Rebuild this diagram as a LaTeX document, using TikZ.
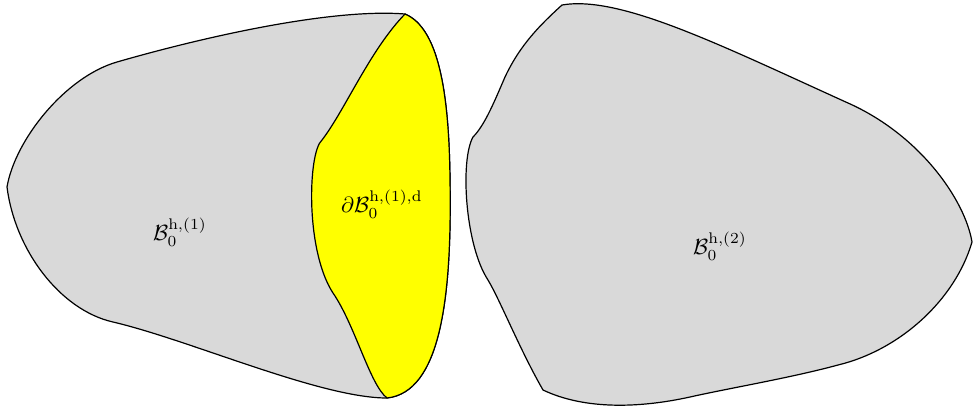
\documentclass[tikz,border=0pt]{standalone}
\usepackage{amsmath}
\definecolor{pureyellow}{RGB}{255,255,0}
\definecolor{bodygray}{RGB}{217,217,217}
\begin{document}
\begin{tikzpicture}[x=0.5pt,y=-0.5pt,
  body/.style={fill=bodygray,draw=black,line width=0.6pt,line join=round},
  face/.style={fill=pureyellow,draw=black,line width=0.6pt,line join=round},
  lbl/.style={inner sep=0pt,scale=1.1}]
\useasboundingbox (0,0) rectangle (973,408);
% left body
\path[body] (405,14) .. controls (330,8) and (200,38) .. (117,62)
  .. controls (65,77) and (15,140) .. (7,187)
  .. controls (15,250) and (60,310) .. (113,322)
  .. controls (190,340) and (320,398) .. (387,398)
  .. controls (440,392) and (452,300) .. (450,180)
  .. controls (449,90) and (438,28) .. (405,14) -- cycle;
% yellow face
\path[face] (405,14) .. controls (370,50) and (345,110) .. (322,140)
  .. controls (308,152) and (305,250) .. (333,293)
  .. controls (355,325) and (370,385) .. (387,398)
  .. controls (440,392) and (452,300) .. (450,180)
  .. controls (449,90) and (438,28) .. (405,14) -- cycle;
% right body
\path[body] (562,5) .. controls (620,-5) and (720,45) .. (848,103)
  .. controls (920,135) and (965,200) .. (972,242)
  .. controls (955,300) and (900,350) .. (838,365)
  .. controls (790,378) and (730,388) .. (690,397)
  .. controls (640,408) and (585,410) .. (543,390)
  .. controls (520,350) and (500,300) .. (488,280)
  .. controls (465,245) and (460,160) .. (473,137)
  .. controls (485,125) and (495,100) .. (505,77)
  .. controls (520,45) and (540,25) .. (562,5) -- cycle;
\node[lbl] (b1) at (180,232) {$\mathcal{B}_0^{\mathrm{h},(1)}$};
\node[lbl] (bd) at (382,204) {$\partial\mathcal{B}_0^{\mathrm{h},(1),\mathrm{d}}$};
\node[lbl] (b2) at (720,246) {$\mathcal{B}_0^{\mathrm{h},(2)}$};
\end{tikzpicture}
\end{document}
